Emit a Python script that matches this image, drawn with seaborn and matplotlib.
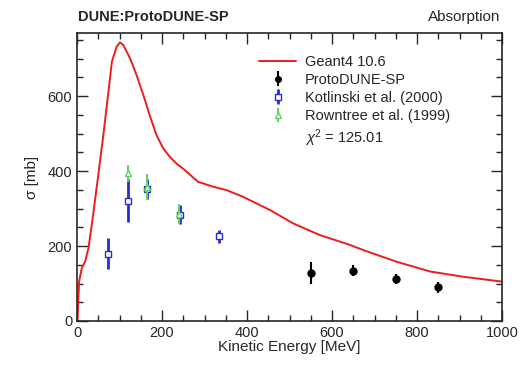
import numpy as np
import pandas as pd
import matplotlib
matplotlib.use("Agg")
import matplotlib.pyplot as plt
import seaborn as sns
from matplotlib.lines import Line2D
from matplotlib.ticker import MultipleLocator

# Geant4 10.6 prediction
g4_ke = [0, 1, 5, 11, 19, 27, 38, 50, 62, 74, 82, 93, 101, 109, 125, 140, 156, 172, 187, 203,
         219, 235, 252, 285, 321, 352, 391, 454, 509, 572, 642, 674, 752, 831, 909, 1000]
g4_xs = [0, 3, 105, 140, 158, 194, 283, 389, 496, 611, 691, 731, 743, 736, 700, 656, 603, 545, 496, 460,
         437, 419, 404, 371, 358, 349, 331, 296, 260, 229, 203, 189, 158, 132, 118, 105]

# ProtoDUNE-SP
pd_ke = [550, 650, 750, 850]
pd_xs = [128, 134, 112, 90]
pd_err = [30, 15, 13, 14]

# Kotlinski et al. (2000)
ko_ke = [72, 120, 165, 242, 333]
ko_xs = [180, 321, 352, 284, 226]
ko_err = [42, 58, 27, 26, 17]

# Rowntree et al. (1999)
ro_ke = [120, 165, 240]
ro_xs = [394, 358, 286]
ro_err = [22, 33, 26]

chi2_text = r"$\chi^2$ = 125.01"

sns.set_style("ticks")
plt.rcParams["font.family"] = ["Liberation Sans", "DejaVu Sans"]
plt.rcParams["mathtext.fontset"] = "custom"
plt.rcParams["mathtext.rm"] = "Liberation Sans"
plt.rcParams["mathtext.it"] = "Liberation Sans:italic"

fig = plt.figure(figsize=(5.21, 3.65), dpi=100)
ax = fig.add_axes([77 / 521, 1 - 321 / 365, 425 / 521, 288 / 365])

g4 = pd.DataFrame({"ke": g4_ke, "xs": g4_xs})
sns.lineplot(data=g4, x="ke", y="xs", ax=ax, color="#ee1c1c", lw=1.4, sort=False)

ko = ax.errorbar(ko_ke, ko_xs, yerr=ko_err, fmt="s", mfc="white", mec="#2a2ad6", ecolor="#2a2ad6",
                 ms=5, mew=1.0, elinewidth=2.0, capsize=0, zorder=3)
ro = ax.errorbar(ro_ke, ro_xs, yerr=ro_err, fmt="^", mfc="white", mec="#5fd35f", ecolor="#5fd35f",
                 ms=5, mew=1.0, elinewidth=1.5, capsize=0, zorder=4)
pdsp = ax.errorbar(pd_ke, pd_xs, yerr=pd_err, fmt="o", color="black", ms=5, elinewidth=1.5,
                   capsize=0, zorder=5)

ax.set_xlim(0, 1000)
ax.set_ylim(0, 768)
ax.xaxis.set_major_locator(MultipleLocator(200))
ax.xaxis.set_minor_locator(MultipleLocator(50))
ax.yaxis.set_major_locator(MultipleLocator(200))
ax.yaxis.set_minor_locator(MultipleLocator(50))
ax.tick_params(which="both", direction="in", top=True, right=True, labelsize=10.5, width=1)
ax.tick_params(which="major", length=8)
ax.tick_params(which="minor", length=4)
for s in ax.spines.values():
    s.set_linewidth(1.2)

ax.set_xlabel("Kinetic Energy [MeV]", fontsize=11, labelpad=0)
ax.set_ylabel("σ [mb]", fontsize=11, labelpad=6)

fig.text(78 / 521, 1 - 17 / 365, "DUNE:ProtoDUNE-SP", fontsize=10.5, fontweight="bold",
         va="center", ha="left")
fig.text(500 / 521, 1 - 17 / 365, "Absorption", fontsize=11, va="center", ha="right")

line_h = Line2D([], [], color="#ee1c1c", lw=1.4)
blank_h = Line2D([], [], ls="none")
handles = [line_h, pdsp, ko, ro, blank_h]
labels = ["Geant4 10.6", "ProtoDUNE-SP", "Kotlinski et al. (2000)", "Rowntree et al. (1999)", chi2_text]
leg = ax.legend(handles, labels, loc="upper left", bbox_to_anchor=(0.41, 0.95), frameon=False,
                fontsize=10.5, handlelength=2.6, labelspacing=0.28, handletextpad=0.6, borderpad=0,
                markerscale=0.8)

fig.savefig("out.png", dpi=100)
